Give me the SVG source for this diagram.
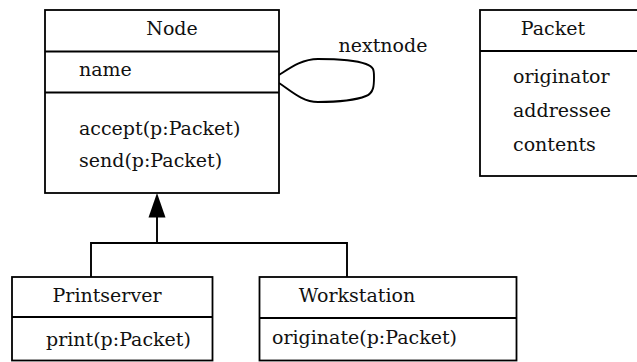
<svg xmlns="http://www.w3.org/2000/svg" width="637" height="362" viewBox="0 0 637 362">
  <style>
    .box { fill: #fff; stroke: #000; stroke-width: 1.8; }
    .sep { stroke: #000; stroke-width: 1.8; fill: none; }
    .wire { stroke: #000; stroke-width: 1.9; fill: none; }
    .head { fill: #000; }
    text { font-family: "DejaVu Serif", "Liberation Serif", serif; font-size: 19px; fill: #111; }
    .mid { text-anchor: middle; }
  </style>
  <rect width="637" height="362" fill="#fff"/>

  <!-- connectors -->
  <g id="connectors">
    <!-- generalisation tree -->
    <path class="wire" d="M91,277 V243 H347 V277"/>
    <path class="wire" d="M157,243 V216"/>
    <path class="head" d="M157,193 L148.5,217.5 L165.5,217.5 Z"/>
    <!-- self association on Node -->
    <path class="wire" d="M279,75 C290,68 302,59 318,59 C340,59 358,61 366,64 C374,67 374,70 374,77 C374,85 374,93 366,96 C356,100 340,102 318,102 C302,102 290,90 279,83"/>
    <text x="383" y="52" class="mid">nextnode</text>
  </g>

  <g id="node-Node">
    <rect class="box" x="45" y="10" width="234" height="183"/>
    <line class="sep" x1="45" y1="51.5" x2="279" y2="51.5"/>
    <line class="sep" x1="45" y1="92.5" x2="279" y2="92.5"/>
    <text x="172" y="35" class="mid">Node</text>
    <text x="79" y="76">name</text>
    <text x="79" y="135">accept(p:Packet)</text>
    <text x="79" y="167">send(p:Packet)</text>
  </g>

  <g id="node-Packet">
    <rect class="box" x="480" y="10" width="170" height="166"/>
    <line class="sep" x1="480" y1="51" x2="650" y2="51"/>
    <text x="553" y="35" class="mid">Packet</text>
    <text x="513" y="83">originator</text>
    <text x="513" y="117">addressee</text>
    <text x="513" y="151">contents</text>
  </g>

  <g id="node-Printserver">
    <rect class="box" x="12" y="277" width="200.5" height="83.5"/>
    <line class="sep" x1="12" y1="317" x2="212.5" y2="317"/>
    <text x="107" y="302" class="mid">Printserver</text>
    <text x="46" y="346">print(p:Packet)</text>
  </g>

  <g id="node-Workstation">
    <rect class="box" x="259.5" y="277" width="257" height="83.5"/>
    <line class="sep" x1="259.5" y1="318" x2="516.5" y2="318"/>
    <text x="357" y="302" class="mid">Workstation</text>
    <text x="272" y="344">originate(p:Packet)</text>
  </g>
</svg>
